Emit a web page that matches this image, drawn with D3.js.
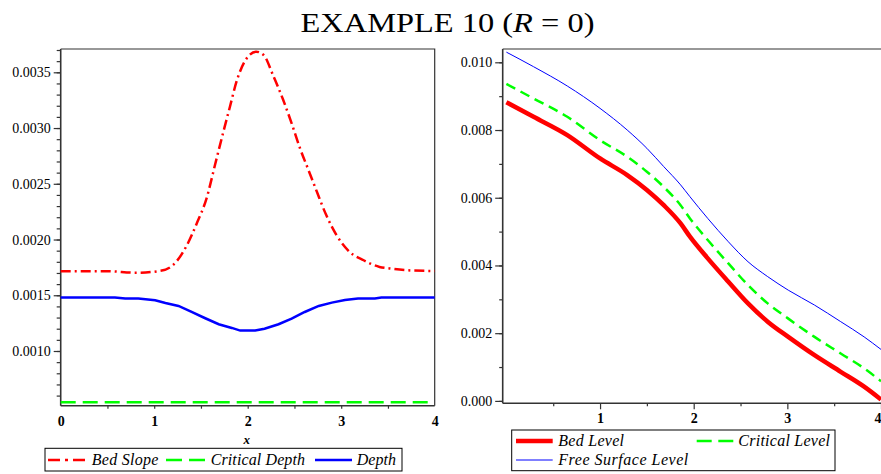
<!DOCTYPE html>
<html><head><meta charset="utf-8">
<script src="https://cdn.jsdelivr.net/npm/d3@7"></script>
<style>
html,body{margin:0;padding:0;background:#fff;}
svg{display:block;}
text{font-family:"Liberation Serif","Times New Roman",serif;fill:#000;}
</style></head>
<body><svg id="c" width="881" height="474"></svg>
<script>
// ---- Left panel data ----
const bedSlopeX = [0, 0.5, 0.8, 1.06, 1.20, 1.35, 1.455, 1.56, 1.65, 1.74, 1.81, 1.88, 1.99, 2.09, 2.17, 2.27, 2.38, 2.47, 2.56, 2.65, 2.74, 2.84, 2.95, 3.09, 3.24, 3.41, 3.52, 3.75, 4.0];
const bedSlopeY = [0.001716, 0.001716, 0.001702, 0.001718, 0.00177, 0.001949, 0.002144, 0.002369, 0.002668, 0.002967, 0.003191, 0.003416, 0.003626, 0.003685, 0.003655, 0.003476, 0.003251, 0.003042, 0.002817, 0.002623, 0.002428, 0.002219, 0.002039, 0.001889, 0.001814, 0.001754, 0.00174, 0.001722, 0.001718];
const depthX = [0, 0.58, 0.69, 0.83, 1.01, 1.12, 1.26, 1.40, 1.54, 1.69, 1.83, 1.92, 2.08, 2.18, 2.33, 2.47, 2.61, 2.76, 2.90, 3.04, 3.18, 3.36, 3.43, 4.0];
const depthY = [0.00148, 0.00148, 0.00147, 0.00147, 0.001455, 0.001431, 0.001404, 0.00135, 0.001296, 0.00124, 0.001207, 0.001183, 0.001183, 0.0012, 0.00124, 0.00129, 0.00135, 0.001404, 0.001434, 0.001458, 0.001471, 0.001471, 0.00148, 0.00148];
const critDepthX = [0, 4];
const critDepthY = [0.00054, 0.00054];
const leftYTicks = [0.0010, 0.0015, 0.0020, 0.0025, 0.0030, 0.0035];
const leftXTicks = [0, 1, 2, 3, 4];
const leftLegend = ["Bed Slope", "Critical Depth", "Depth"];

// ---- Right panel data ----
const levelX = [0, 0.29, 0.65, 1.0, 1.29, 1.5, 1.68, 1.86, 1.96, 2.15, 2.37, 2.58, 2.79, 3.01, 3.29, 3.57, 3.82, 4.0];
const bedLevel = [0.00882, 0.00839, 0.00785, 0.00716, 0.00667, 0.00623, 0.00578, 0.00524, 0.00485, 0.00421, 0.00352, 0.00288, 0.00234, 0.00189, 0.00135, 0.00086, 0.00042, 0.00004];
const criticalLevel = [0.00936, 0.00893, 0.00839, 0.00770, 0.00721, 0.00677, 0.00632, 0.00578, 0.00539, 0.00475, 0.00406, 0.00342, 0.00288, 0.00243, 0.00189, 0.00140, 0.00096, 0.00058];
const freeSurfaceLevel = [0.01030, 0.00987, 0.00930, 0.00864, 0.00800, 0.00746, 0.00692, 0.00638, 0.00603, 0.00539, 0.00470, 0.00411, 0.00367, 0.00327, 0.00283, 0.00234, 0.00189, 0.00152];
const rightYTicks = [0.000, 0.002, 0.004, 0.006, 0.008, 0.010];
const rightXTicks = [1, 2, 3, 4];
const rightLegend = ["Bed Level", "Critical Level", "Free Surface Level"];

const svg = d3.select("#c");
const AX = "#333";

// Title
const title = svg.append("text").attr("x", 447.5).attr("y", 32).attr("text-anchor", "middle")
  .style("font-size", "28px").attr("textLength", 294).attr("lengthAdjust", "spacingAndGlyphs");
title.append("tspan").text("EXAMPLE 10 (");
title.append("tspan").style("font-style", "italic").text("R");
title.append("tspan").text(" = 0)");

function zip(xs, ys) { return xs.map((x, i) => [x, ys[i]]); }

// ================= LEFT PANEL =================
const lx = d3.scaleLinear().domain([0, 4]).range([60.7, 434.7]);
const ly = d3.scaleLinear().domain([0.0010, 0.0035]).range([351, 72.3]);
const L = {left: 60.7, right: 434.7, top: 49, bottom: 405.7};

const gl = svg.append("g");
gl.append("path").attr("d", `M${L.left},${L.top}H${L.right}V${L.bottom}`).attr("fill", "none").attr("stroke", AX).attr("stroke-width", 1.2);

const lyMinor = d3.range(6, 38).map(v => v / 10000);
gl.append("g").attr("transform", `translate(${L.left},0)`)
  .call(d3.axisLeft(ly).tickValues(lyMinor).tickSize(4).tickFormat(""))
  .call(g => g.select(".domain").remove())
  .call(g => g.selectAll("line").attr("stroke", AX).attr("stroke-width", 1.2));
gl.append("g").attr("transform", `translate(${L.left},0)`)
  .call(d3.axisLeft(ly).tickValues(leftYTicks).tickSize(7).tickPadding(3).tickFormat(d3.format(".4f")))
  .call(g => g.select(".domain").remove())
  .call(g => g.selectAll("line").attr("stroke", AX).attr("stroke-width", 1.2))
  .call(g => g.selectAll("text").attr("font-family", "Liberation Serif").attr("font-size", 14).attr("fill", "#000"));
gl.append("line").attr("x1", L.left).attr("x2", L.left).attr("y1", L.top).attr("y2", L.bottom).attr("stroke", AX).attr("stroke-width", 1.6);

gl.append("g").attr("transform", `translate(0,${L.bottom})`)
  .call(d3.axisBottom(lx).tickValues([0.5, 1, 1.5, 2, 2.5, 3, 3.5]).tickSize(3).tickFormat(""))
  .call(g => g.select(".domain").remove())
  .call(g => g.selectAll("line").attr("stroke", AX).attr("stroke-width", 1.2));
gl.append("g").attr("transform", `translate(0,${L.bottom})`)
  .call(d3.axisBottom(lx).tickValues(leftXTicks).tickSize(0).tickPadding(10).tickFormat(d3.format("d")))
  .call(g => g.select(".domain").remove())
  .call(g => g.selectAll("text").attr("font-family", "Liberation Serif").attr("font-size", 14).attr("font-weight", "bold").attr("fill", "#000"));
gl.append("line").attr("x1", L.left).attr("x2", L.right).attr("y1", L.bottom).attr("y2", L.bottom).attr("stroke", AX).attr("stroke-width", 1.6);
gl.append("text").attr("x", 246.7).attr("y", 444).attr("text-anchor", "middle")
  .style("font-style", "italic").style("font-weight", "bold").style("font-size", "13px").text("x");

const lineL = d3.line().x(d => lx(d[0])).y(d => ly(d[1])).curve(d3.curveMonotoneX);
gl.append("path").datum(zip(critDepthX, critDepthY)).attr("d", d3.line().x(d => lx(d[0])).y(d => ly(d[1])))
  .attr("fill", "none").attr("stroke", "#00ff00").attr("stroke-width", 2.5).attr("stroke-dasharray", "15,7");
gl.append("path").datum(zip(depthX, depthY)).attr("d", d3.line().x(d => lx(d[0])).y(d => ly(d[1])))
  .attr("fill", "none").attr("stroke", "#0000ff").attr("stroke-width", 2.5);
gl.append("path").datum(zip(bedSlopeX, bedSlopeY)).attr("d", lineL)
  .attr("fill", "none").attr("stroke", "#ff0000").attr("stroke-width", 2.5).attr("stroke-dasharray", "10,4,2,4");

// left legend
const lg = svg.append("g");
lg.append("rect").attr("x", 45).attr("y", 448.3).attr("width", 357).attr("height", 22.7).attr("fill", "none").attr("stroke", "#000").attr("stroke-width", 1);
const leftLegStyle = [
  {c: "#ff0000", d: "12,5,3,5", x1: 48, x2: 85, tx: 91.7, tw: 66.7},
  {c: "#00ff00", d: "16,7", x1: 166, x2: 205, tx: 210.7, tw: 94.3},
  {c: "#0000ff", d: null, x1: 315, x2: 352, tx: 356.7, tw: 39.3}
];
leftLegend.forEach((name, i) => {
  const s = leftLegStyle[i];
  lg.append("line").attr("x1", s.x1).attr("x2", s.x2).attr("y1", 460).attr("y2", 460)
    .attr("stroke", s.c).attr("stroke-width", 2.5).attr("stroke-dasharray", s.d);
  lg.append("text").attr("x", s.tx).attr("y", 465).style("font-style", "italic").style("font-size", "16px")
    .attr("textLength", s.tw).attr("lengthAdjust", "spacing").text(name);
});

// ================= RIGHT PANEL =================
const rx = d3.scaleLinear().domain([0, 4]).range([506.4, 881]);
const ry = d3.scaleLinear().domain([0, 0.010]).range([400.9, 62.3]);
const R = {left: 502.7, right: 900, top: 49, bottom: 403.3};
const gr = svg.append("g");
gr.append("line").attr("x1", R.left).attr("x2", R.right).attr("y1", R.top).attr("y2", R.top).attr("stroke", AX).attr("stroke-width", 1.2);

gr.append("g").attr("transform", `translate(${R.left},0)`)
  .call(d3.axisLeft(ry).tickValues(d3.range(0, 11).map(v => v / 1000)).tickSize(3.5).tickFormat(""))
  .call(g => g.select(".domain").remove())
  .call(g => g.selectAll("line").attr("stroke", AX).attr("stroke-width", 1.2));
gr.append("g").attr("transform", `translate(${R.left},0)`)
  .call(d3.axisLeft(ry).tickValues(rightYTicks).tickSize(7.5).tickPadding(3).tickFormat(d3.format(".3f")))
  .call(g => g.select(".domain").remove())
  .call(g => g.selectAll("line").attr("stroke", AX).attr("stroke-width", 1.2))
  .call(g => g.selectAll("text").attr("font-family", "Liberation Serif").attr("font-size", 14).attr("fill", "#000"));
gr.append("line").attr("x1", R.left).attr("x2", R.left).attr("y1", R.top).attr("y2", R.bottom).attr("stroke", AX).attr("stroke-width", 1.6);

gr.append("g").attr("transform", `translate(0,${R.bottom})`)
  .call(d3.axisBottom(rx).tickValues([0.5, 1.5, 2.5, 3.5]).tickSize(3).tickFormat(""))
  .call(g => g.select(".domain").remove())
  .call(g => g.selectAll("line").attr("stroke", AX).attr("stroke-width", 1.2));
gr.append("g").attr("transform", `translate(0,${R.bottom})`)
  .call(d3.axisBottom(rx).tickValues(rightXTicks).tickSize(6).tickPadding(4).tickFormat(d3.format("d")))
  .call(g => g.select(".domain").remove())
  .call(g => g.selectAll("line").attr("stroke", AX).attr("stroke-width", 1.2))
  .call(g => g.selectAll("text").attr("font-family", "Liberation Serif").attr("font-size", 14).attr("font-weight", "bold").attr("fill", "#000")
    .attr("text-anchor", d => d === 4 ? "end" : "middle"));
gr.append("line").attr("x1", R.left).attr("x2", R.right).attr("y1", R.bottom).attr("y2", R.bottom).attr("stroke", AX).attr("stroke-width", 1.6);

const lineR = d3.line().x(d => rx(d[0])).y(d => ry(d[1])).curve(d3.curveMonotoneX);
gr.append("path").datum(zip(levelX, bedLevel)).attr("d", lineR)
  .attr("fill", "none").attr("stroke", "#ff0000").attr("stroke-width", 4.5);
gr.append("path").datum(zip(levelX, criticalLevel)).attr("d", lineR)
  .attr("fill", "none").attr("stroke", "#00ff00").attr("stroke-width", 2.5).attr("stroke-dasharray", "10,6");
gr.append("path").datum(zip(levelX, freeSurfaceLevel)).attr("d", lineR)
  .attr("fill", "none").attr("stroke", "#0000ff").attr("stroke-width", 1);

// right legend
const rg = svg.append("g");
rg.append("rect").attr("x", 511.7).attr("y", 430).attr("width", 323.3).attr("height", 40.7).attr("fill", "none").attr("stroke", "#000").attr("stroke-width", 1);
const rightLegStyle = [
  {c: "#ff0000", w: 4.5, d: null, x1: 516, x2: 552.7, y: 441, tx: 558.3, ty: 446, tw: 65.7},
  {c: "#00ff00", w: 2.5, d: "15,6.6", x1: 696.7, x2: 733.3, y: 441, tx: 738.3, ty: 446, tw: 91.7},
  {c: "#0000ff", w: 1, d: null, x1: 516, x2: 552.7, y: 460, tx: 558.3, ty: 465, tw: 130}
];
rightLegend.forEach((name, i) => {
  const s = rightLegStyle[i];
  rg.append("line").attr("x1", s.x1).attr("x2", s.x2).attr("y1", s.y).attr("y2", s.y)
    .attr("stroke", s.c).attr("stroke-width", s.w).attr("stroke-dasharray", s.d);
  rg.append("text").attr("x", s.tx).attr("y", s.ty).style("font-style", "italic").style("font-size", "16px")
    .attr("textLength", s.tw).attr("lengthAdjust", "spacing").text(name);
});
</script></body></html>
